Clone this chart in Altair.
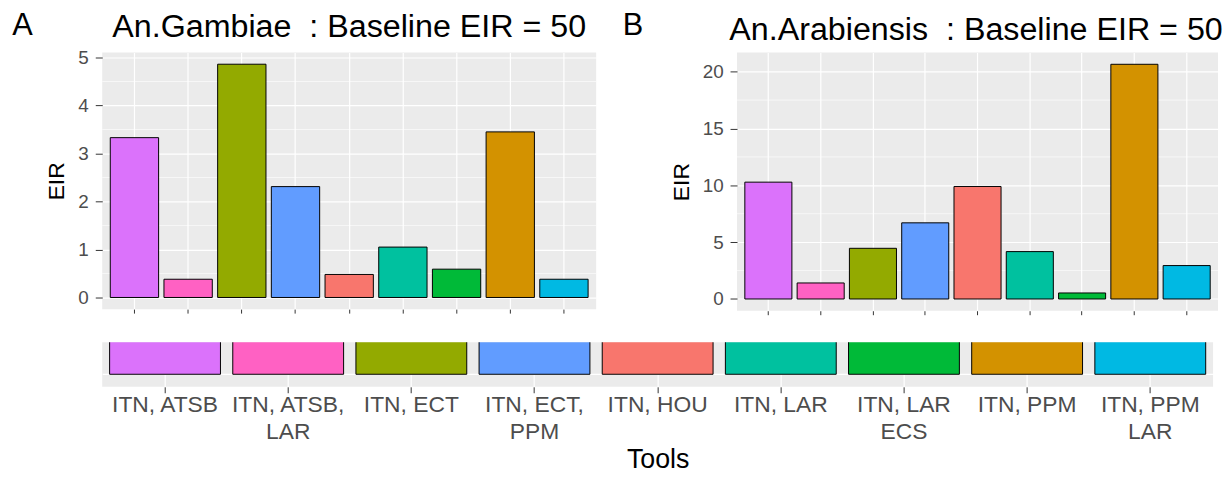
import altair as alt
import pandas as pd

FONT = "Liberation Sans"

categories = ["ITN, ATSB", "ITN, ATSB,\nLAR", "ITN, ECT", "ITN, ECT,\nPPM", "ITN, HOU",
              "ITN, LAR", "ITN, LAR\nECS", "ITN, PPM", "ITN, PPM\nLAR"]
colors = ["#DB72FB", "#FF61C3", "#93AA00", "#619CFF", "#F8766D",
          "#00C19F", "#00BA38", "#D39200", "#00B9E3"]
gambiae_eir = [3.33, 0.38, 4.86, 2.31, 0.48, 1.05, 0.59, 3.45, 0.38]
arabiensis_eir = [10.28, 1.41, 4.46, 6.70, 9.90, 4.17, 0.53, 20.65, 2.94]
gambiae_ticks = [0, 1, 2, 3, 4, 5]
gambiae_minor = [0.5, 1.5, 2.5, 3.5, 4.5]
arab_ticks = [0, 5, 10, 15, 20]
arab_minor = [2.5, 7.5, 12.5, 17.5]
legend_bar = [1.2, 1.2, 1.2, 1.2, 1.2, 1.2, 1.2, 1.2, 1.2]
legend_domain = [-0.39, 1.0]
title_a = "An.Gambiae\u00a0 : Baseline EIR = 50"
title_b = "An.Arabiensis\u00a0 : Baseline EIR = 50"

color_scale = alt.Scale(domain=categories, range=colors)
GRID = "white"
BG = alt.ViewBackground(fill="#EBEBEB", stroke=None)


def panel(values, ticks, minor, title, title_dx, title_dy, letter, letter_dx,
          letter_dy, width, height):
    df = pd.DataFrame({"Tools": categories, "EIR": values})
    vmax = max(values)
    ydom = [-0.05 * vmax, 1.05 * vmax]
    yscale = alt.Scale(domain=ydom, zero=False, nice=False)
    x = alt.X("Tools:N", sort=categories,
              scale=alt.Scale(paddingInner=0.1, paddingOuter=0.15),
              axis=alt.Axis(labels=False, title=None, ticks=True, tickSize=4,
                            tickColor="#333333", domain=False, grid=True,
                            gridColor=GRID, gridWidth=1.2))
    yaxis = alt.Axis(values=ticks, labelFontSize=19, labelColor="#4D4D4D",
                     labelFont=FONT, tickColor="#333333", tickSize=7,
                     labelPadding=7, domain=False, grid=True, gridColor=GRID,
                     gridWidth=1.2, title="EIR", titleFontSize=23,
                     titleColor="black", titleFontWeight="normal",
                     titleFont=FONT, titlePadding=9)
    minor_df = pd.DataFrame({"EIR": minor})
    minor_rules = alt.Chart(minor_df).mark_rule(color=GRID, strokeWidth=0.6).encode(
        y=alt.Y("EIR:Q", scale=yscale, axis=yaxis))
    bars = alt.Chart(df).mark_bar(stroke="black", strokeWidth=1).encode(
        x=x, y=alt.Y("EIR:Q", scale=yscale, axis=yaxis), y2=alt.datum(0),
        color=alt.Color("Tools:N", scale=color_scale, legend=None))
    text_df = pd.DataFrame({"letter": [letter], "title": [title]})
    letter_text = alt.Chart(text_df).mark_text(
        align="left", baseline="alphabetic", fontSize=31, font=FONT,
        color="black", x=letter_dx, y=letter_dy).encode(text="letter:N")
    title_text = alt.Chart(text_df).mark_text(
        align="center", baseline="alphabetic", fontSize=32.5, font=FONT,
        color="black", x=title_dx, y=title_dy).encode(text="title:N")
    return alt.layer(minor_rules, bars, letter_text, title_text).properties(
        width=width, height=height, view=BG)


panel_a = panel(gambiae_eir, gambiae_ticks, gambiae_minor, title_a, 249, -16,
                "A", -90.7, -17.5, 498, 258.7)
panel_b = panel(arabiensis_eir, arab_ticks, arab_minor, title_b, 241, -13,
                "B", -115.3, -17.5, 485, 260.3)

legend_df = pd.DataFrame({"Tools": categories, "h": legend_bar})
xb = alt.X("Tools:N", sort=categories,
           scale=alt.Scale(paddingInner=0.1, paddingOuter=0.06),
           axis=alt.Axis(title="Tools", titleFontSize=27, titleColor="black",
                         titleFontWeight="normal", titleFont=FONT,
                         labelFontSize=23, labelColor="#4D4D4D", labelFont=FONT,
                         labelAngle=0, labelExpr="split(datum.label, '\\n')",
                         labelLineHeight=27, labelBaseline="top",
                         labelOverlap=False, labelBound=False,
                         tickSize=6, tickColor="#333333", domain=False, grid=True,
                         gridColor=GRID, gridWidth=1.2, labelPadding=1,
                         titlePadding=3))
yb = alt.Y("h:Q", scale=alt.Scale(domain=legend_domain, zero=False, nice=False),
           axis=alt.Axis(values=[0], labels=False, ticks=False, domain=False,
                         grid=True, gridColor=GRID, gridWidth=1.2, title=None))
legend_bars = alt.Chart(legend_df).mark_bar(stroke="black", strokeWidth=1, clip=True).encode(
    x=xb, y=yb, y2=alt.datum(0),
    color=alt.Color("Tools:N", scale=color_scale, legend=None))
bottom = legend_bars.properties(width=1120, height=45, view=BG)

top = alt.concat(panel_a, panel_b, columns=2, spacing=25, align="none")
chart = alt.vconcat(top, bottom, spacing=27).configure(
    font=FONT, padding={"left": 4, "top": 0, "right": 0, "bottom": 0}
).configure_view(fill="#EBEBEB", stroke=None)

chart.save("out.html", embed_options={"renderer": "svg", "actions": False})
